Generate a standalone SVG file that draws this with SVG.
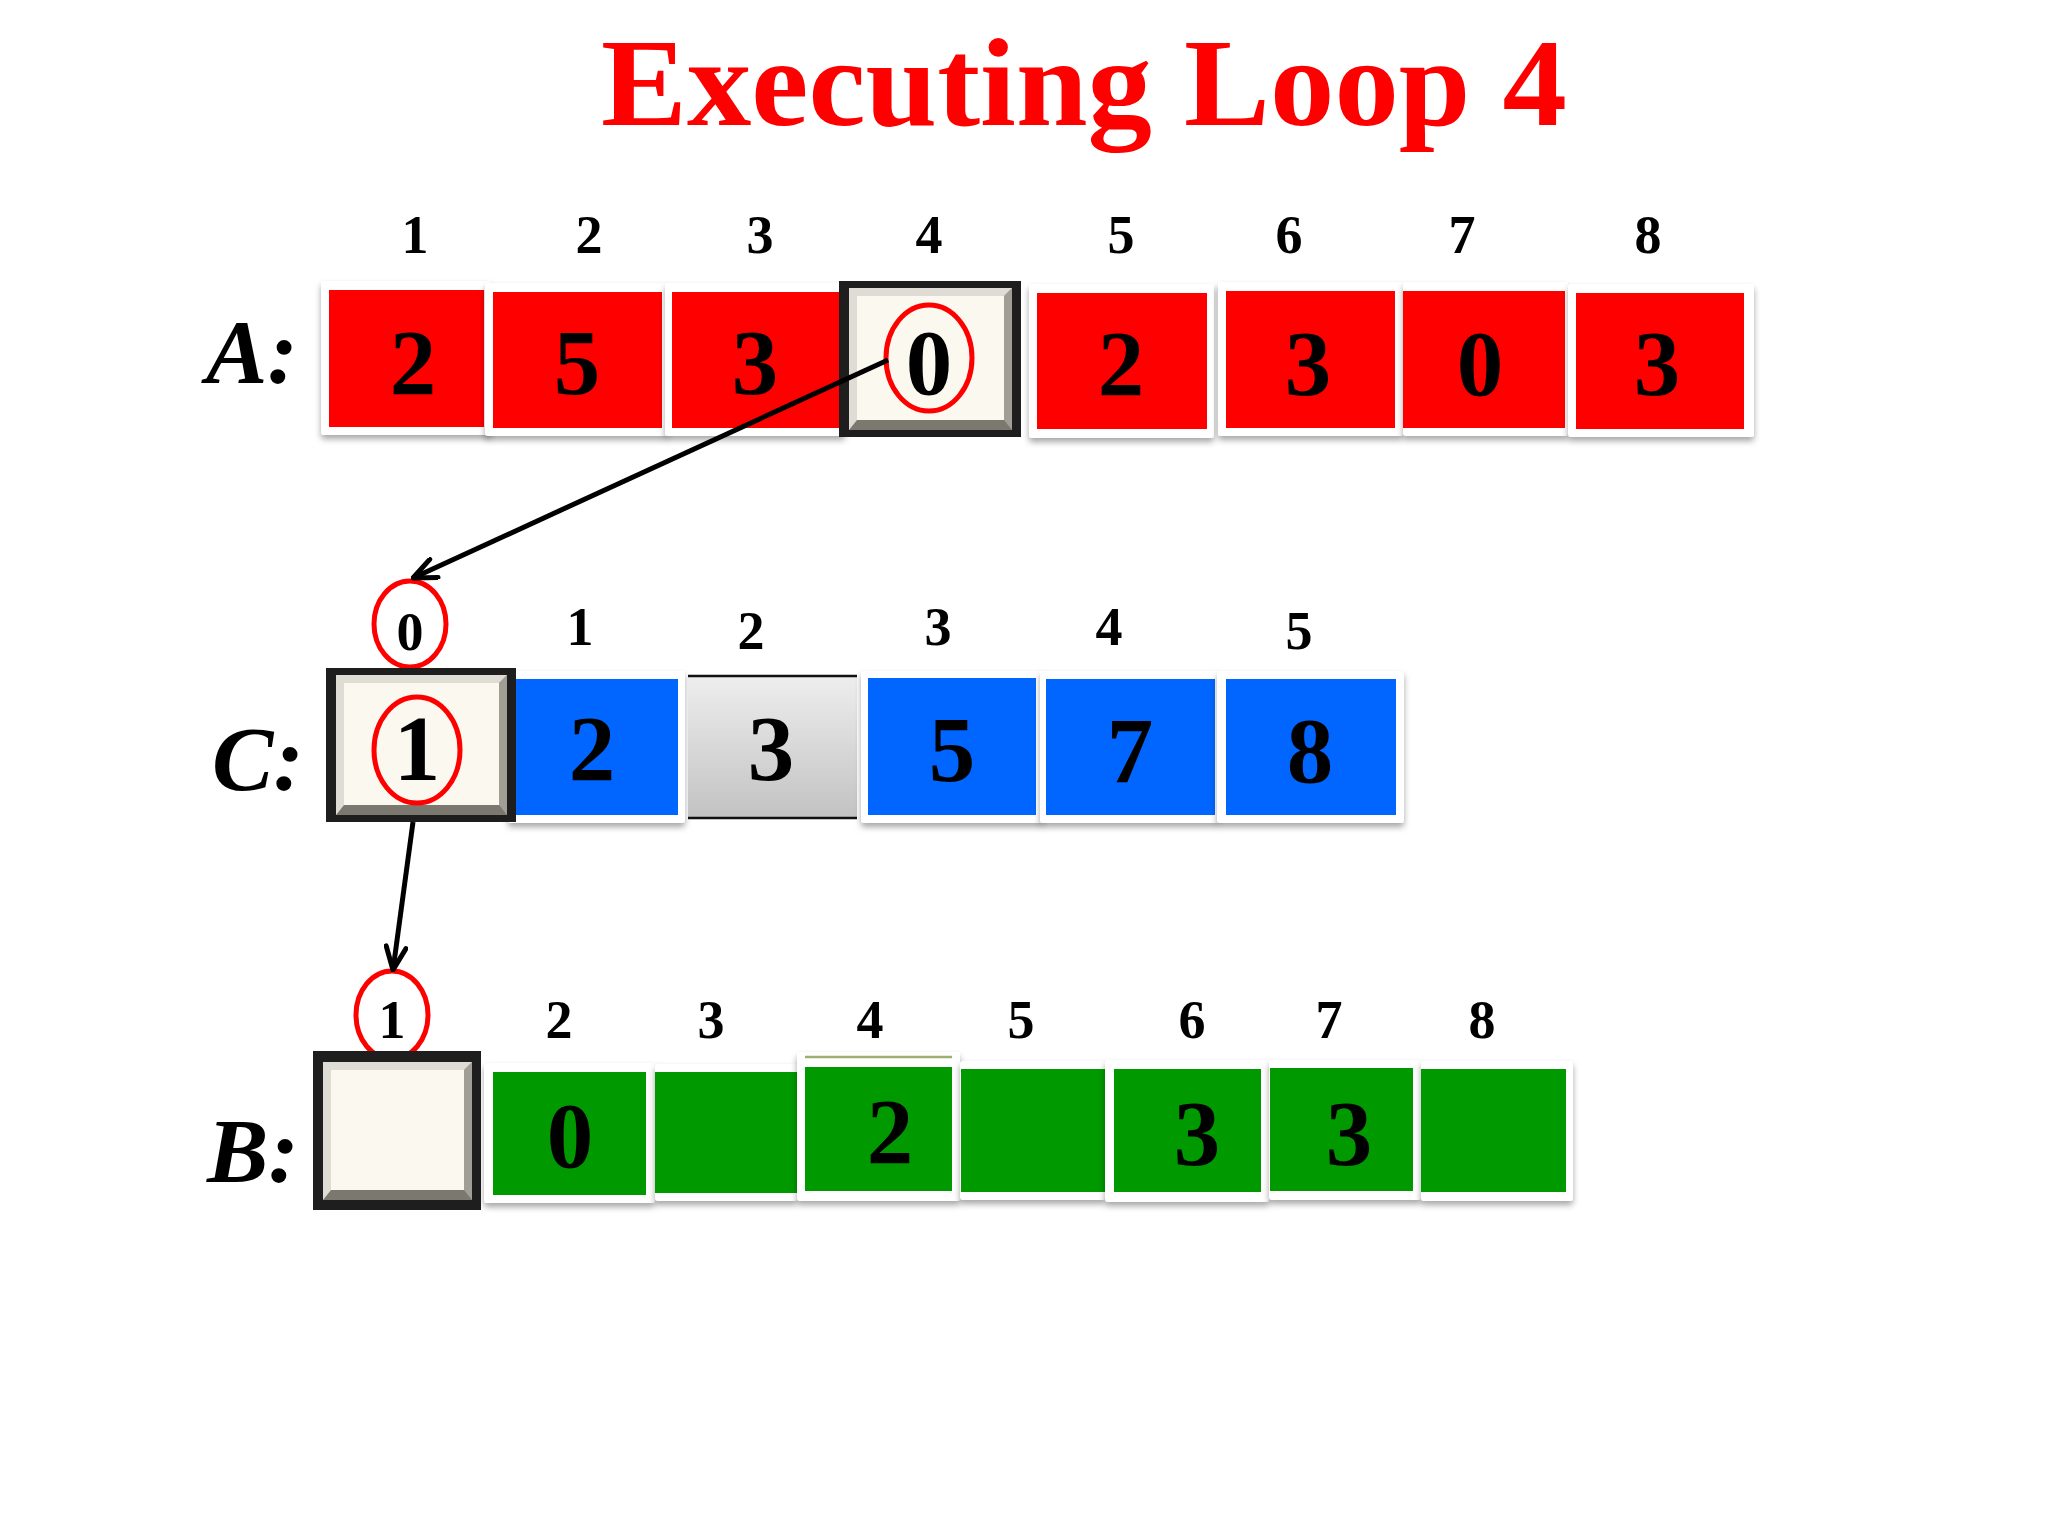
<svg xmlns="http://www.w3.org/2000/svg" width="2048" height="1536" viewBox="0 0 2048 1536">
<defs>
<filter id="sh" x="-10%" y="-10%" width="120%" height="130%">
<feDropShadow dx="0" dy="4" stdDeviation="3" flood-color="#000" flood-opacity="0.35"/>
</filter>
<linearGradient id="gray" x1="0" y1="0" x2="0" y2="1">
<stop offset="0" stop-color="#eeeeee"/>
<stop offset="1" stop-color="#c2c2c2"/>
</linearGradient>
<marker id="arr" viewBox="0 0 28 24" refX="26" refY="12" markerWidth="28" markerHeight="24" markerUnits="userSpaceOnUse" orient="auto">
<path d="M3,2 L26,12 L3,22" fill="none" stroke="#000" stroke-width="5" stroke-linecap="round" stroke-linejoin="round"/>
</marker>
<style>
.card{fill:#fff;filter:url(#sh)}
.red{fill:#ff0000}
.blue{fill:#0066ff}
.green{fill:#009900}
.dig{font-family:"Liberation Serif","Times New Roman",serif;font-weight:bold;font-size:93px;text-anchor:middle;fill:#000}
.idx{font-family:"Liberation Serif","Times New Roman",serif;font-weight:bold;font-size:54px;text-anchor:middle;fill:#000}
.lab{font-family:"Liberation Serif","Times New Roman",serif;font-weight:bold;font-style:italic;font-size:92px;fill:#000}
.ring{fill:none;stroke:#ff0000;stroke-width:5}
.frame{fill:#1e1e1e}
.face{fill:#faf8ef}
.bevB{fill:#7b7870}
.bevR{fill:#a19e96}
.bevT{fill:#dedcd4}
.con{fill:none;stroke:#000;stroke-width:5;marker-end:url(#arr)}
</style>
</defs>
<rect width="2048" height="1536" fill="#fff"/>

<text x="1084" y="125" font-family="'Liberation Serif','Times New Roman',serif" font-weight="bold" font-size="124" fill="#ff0000" text-anchor="middle" textLength="966" lengthAdjust="spacingAndGlyphs">Executing Loop 4</text>

<!-- Row A -->
<g id="rowA-label"><text class="lab" x="206" y="383">A:</text></g>
<g id="A-index">
<text class="idx" x="415" y="253">1</text>
<text class="idx" x="589" y="253">2</text>
<text class="idx" x="760" y="253">3</text>
<text class="idx" x="929" y="253">4</text>
<text class="idx" x="1121" y="253">5</text>
<text class="idx" x="1289" y="253">6</text>
<text class="idx" x="1462" y="253">7</text>
<text class="idx" x="1648" y="253">8</text>
</g>
<g id="A1"><rect class="card" x="321" y="281" width="170" height="154" rx="3"/><rect class="red" x="329" y="290" width="155" height="137"/><text class="dig" x="413" y="394">2</text></g>
<g id="A2"><rect class="card" x="485" y="283" width="183" height="153" rx="3"/><rect class="red" x="493" y="292" width="169" height="136"/><text class="dig" x="577" y="394">5</text></g>
<g id="A3"><rect class="card" x="665" y="283" width="180" height="153" rx="3"/><rect class="red" x="672" y="292" width="168" height="136"/><text class="dig" x="755" y="394">3</text></g>
<g id="A4">
<rect class="frame" x="839" y="281" width="182" height="156"/>
<rect class="bevB" x="849" y="288" width="163" height="142"/>
<polygon class="bevR" points="1012,288 1012,430 1004,420 1004,296"/>
<polygon class="bevT" points="849,288 1012,288 1004,296 857,296 857,420 849,430"/>
<rect class="face" x="857" y="296" width="147" height="124"/>
<text class="dig" x="929" y="394">0</text>
<ellipse class="ring" cx="929" cy="358" rx="43" ry="53"/>
</g>
<g id="A5"><rect class="card" x="1029" y="284" width="185" height="154" rx="3"/><rect class="red" x="1037" y="293" width="170" height="136"/><text class="dig" x="1121" y="395">2</text></g>
<g id="A6"><rect class="card" x="1218" y="282" width="185" height="154" rx="3"/><rect class="red" x="1226" y="291" width="169" height="137"/><text class="dig" x="1308" y="395">3</text></g>
<g id="A7"><rect class="card" x="1403" y="282" width="165" height="154" rx="3"/><rect class="red" x="1403" y="291" width="162" height="137"/><text class="dig" x="1480" y="395">0</text></g>
<g id="A8"><rect class="card" x="1568" y="284" width="186" height="153" rx="3"/><rect class="red" x="1576" y="293" width="168" height="136"/><text class="dig" x="1657" y="395">3</text></g>

<!-- Row C -->
<g id="rowC-label"><text class="lab" x="212" y="790">C:</text></g>
<g id="C-index">
<text class="idx" x="410" y="650">0</text>
<ellipse class="ring" cx="410" cy="624" rx="36" ry="43"/>
<text class="idx" x="580" y="645">1</text>
<text class="idx" x="751" y="649">2</text>
<text class="idx" x="938" y="645">3</text>
<text class="idx" x="1109" y="645">4</text>
<text class="idx" x="1299" y="649">5</text>
</g>
<g id="C1"><rect class="card" x="508" y="671" width="177" height="152" rx="3"/><rect class="blue" x="516" y="679" width="162" height="136"/><text class="dig" x="592" y="780">2</text></g>
<g id="C2"><rect x="688" y="675" width="169" height="144" fill="url(#gray)"/><line x1="688" y1="676" x2="857" y2="676" stroke="#111" stroke-width="2.5"/><line x1="688" y1="818" x2="857" y2="818" stroke="#111" stroke-width="2.5"/><text class="dig" x="771" y="780">3</text></g>
<g id="C3"><rect class="card" x="861" y="671" width="182" height="152" rx="3"/><rect class="blue" x="868" y="678" width="168" height="137"/><text class="dig" x="952" y="781">5</text></g>
<g id="C4"><rect class="card" x="1040" y="671" width="179" height="152" rx="3"/><rect class="blue" x="1046" y="679" width="169" height="136"/><text class="dig" x="1130" y="782">7</text></g>
<g id="C5"><rect class="card" x="1217" y="671" width="187" height="152" rx="3"/><rect class="blue" x="1226" y="679" width="170" height="136"/><text class="dig" x="1310" y="782">8</text></g>
<g id="C0">
<rect class="frame" x="326" y="668" width="190" height="154"/>
<rect class="bevB" x="336" y="675" width="171" height="140"/>
<polygon class="bevR" points="507,675 507,815 499,805 499,683"/>
<polygon class="bevT" points="336,675 507,675 499,683 344,683 344,805 336,815"/>
<rect class="face" x="344" y="683" width="155" height="122"/>
<text class="dig" x="417" y="780">1</text>
<ellipse class="ring" cx="417" cy="750" rx="43" ry="53"/>
</g>

<!-- Row B -->
<g id="rowB-label"><text class="lab" x="207" y="1182">B:</text></g>
<g id="B-index">
<text class="idx" x="392" y="1038">1</text>
<ellipse class="ring" cx="392" cy="1015" rx="36" ry="44"/>
<text class="idx" x="559" y="1038">2</text>
<text class="idx" x="711" y="1038">3</text>
<text class="idx" x="870" y="1038">4</text>
<text class="idx" x="1021" y="1038">5</text>
<text class="idx" x="1192" y="1038">6</text>
<text class="idx" x="1329" y="1038">7</text>
<text class="idx" x="1482" y="1038">8</text>
</g>
<g id="B1">
<rect class="frame" x="313" y="1051" width="168" height="159"/>
<rect class="bevB" x="323" y="1062" width="149" height="138"/>
<polygon class="bevR" points="472,1062 472,1200 464,1190 464,1070"/>
<polygon class="bevT" points="323,1062 472,1062 464,1070 331,1070 331,1190 323,1200"/>
<rect class="face" x="331" y="1070" width="133" height="120"/>
</g>
<g id="B2"><rect class="card" x="484" y="1063" width="171" height="140" rx="3"/><rect class="green" x="493" y="1072" width="153" height="123"/><text class="dig" x="570" y="1167">0</text></g>
<g id="B3"><rect class="card" x="655" y="1064" width="142" height="137" rx="3"/><rect class="green" x="655" y="1072" width="142" height="121"/></g>
<g id="B4"><rect class="card" x="797" y="1052" width="163" height="149" rx="3"/><line x1="805" y1="1057" x2="952" y2="1057" stroke="#9caf6e" stroke-width="2.5"/><rect class="green" x="805" y="1067" width="147" height="124"/><text class="dig" x="890" y="1163">2</text></g>
<g id="B5"><rect class="card" x="960" y="1061" width="145" height="139" rx="3"/><rect class="green" x="961" y="1069" width="144" height="123"/></g>
<g id="B6"><rect class="card" x="1105" y="1060" width="164" height="142" rx="3"/><rect class="green" x="1114" y="1069" width="147" height="123"/><text class="dig" x="1197" y="1165">3</text></g>
<g id="B7"><rect class="card" x="1269" y="1060" width="152" height="140" rx="3"/><rect class="green" x="1270" y="1068" width="143" height="123"/><text class="dig" x="1349" y="1165">3</text></g>
<g id="B8"><rect class="card" x="1421" y="1061" width="152" height="140" rx="3"/><rect class="green" x="1421" y="1069" width="145" height="123"/></g>

<!-- connectors -->
<g id="connectors">
<path class="con" d="M888,360 L413,578"/>
<path class="con" d="M413,822 L393,970"/>
</g>
</svg>
